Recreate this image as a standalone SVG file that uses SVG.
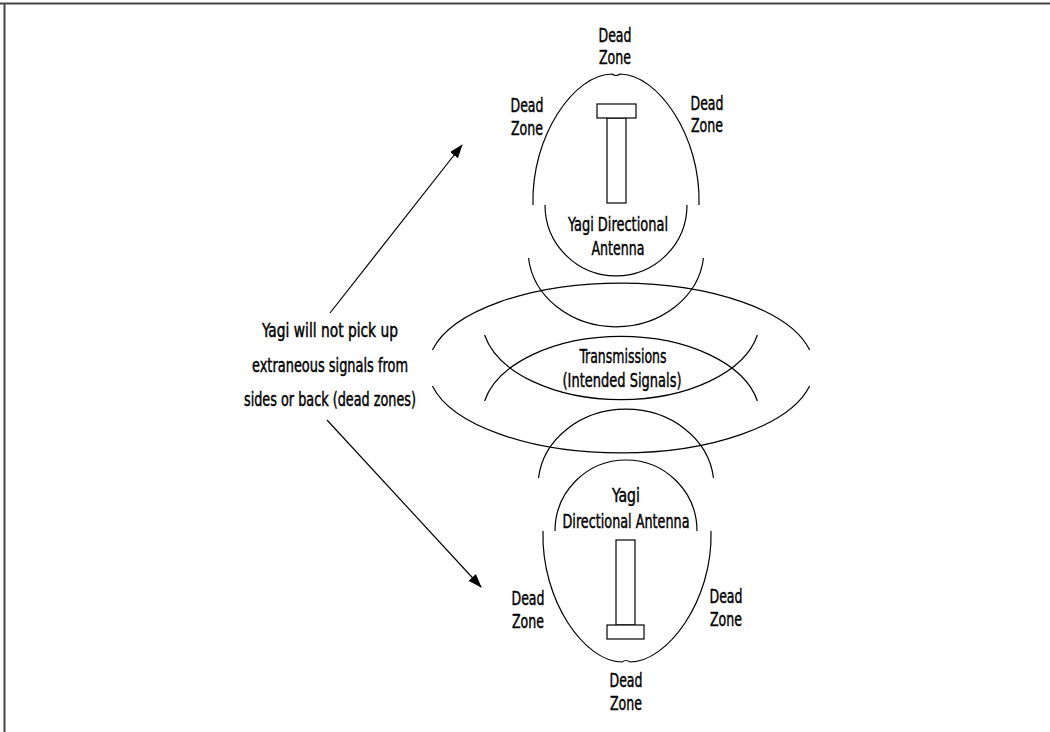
<svg xmlns="http://www.w3.org/2000/svg" width="1050" height="732" viewBox="0 0 1050 732">
<defs>
<marker id="ah" markerUnits="userSpaceOnUse" markerWidth="14" markerHeight="10" refX="13" refY="5" orient="auto">
<path d="M0,0 L14,5 L0,10 Z" fill="#000"/>
</marker>
<style>
.ln{fill:none;stroke:#000;stroke-width:1.2}
.box{fill:#fff;stroke:#000;stroke-width:1.2}
.t{font-family:"DejaVu Sans Condensed","DejaVu Sans","Liberation Sans",sans-serif;font-size:20px;fill:#000;stroke:#000;stroke-width:0.45;text-anchor:middle}
.tl{font-size:19px}
.frame{stroke:#444;stroke-width:2;fill:none}
</style>
</defs>
<rect width="1050" height="732" fill="#fff"/>
<path class="frame" d="M0,3.5 H1050 M4.5,3 V732"/>

<g id="top-antenna">
<path class="ln" d="M533,205 C531,135 575,74 612,74 Q616,77 620,74 C657,74 701,135 699,205"/>
<path class="ln" d="M545,205 A71,71 0 0 0 687,205"/>
<path class="ln" d="M528.5,258 A88,77 0 0 0 703.5,258"/>
<rect class="box" x="607" y="118" width="19" height="85"/>
<rect class="box" x="597" y="104" width="39" height="14"/>
<text class="t" x="615" y="42" textLength="33" lengthAdjust="spacingAndGlyphs">Dead</text>
<text class="t" x="615" y="64" textLength="32" lengthAdjust="spacingAndGlyphs">Zone</text>
<text class="t" x="527" y="112" textLength="33" lengthAdjust="spacingAndGlyphs">Dead</text>
<text class="t" x="527" y="135" textLength="32" lengthAdjust="spacingAndGlyphs">Zone</text>
<text class="t" x="707" y="110" textLength="33" lengthAdjust="spacingAndGlyphs">Dead</text>
<text class="t" x="707" y="132" textLength="32" lengthAdjust="spacingAndGlyphs">Zone</text>
<text class="t" x="618" y="231" textLength="100" lengthAdjust="spacingAndGlyphs">Yagi Directional</text>
<text class="t" x="618" y="255" textLength="53" lengthAdjust="spacingAndGlyphs">Antenna</text>
</g>

<g id="transmissions">
<path class="ln" d="M432.4,350 A193,85 0 0 1 809.6,350"/>
<path class="ln" d="M432.4,386 A193,85 0 0 0 809.6,386"/>
<path class="ln" d="M484.6,335 A139,80 0 0 0 757.4,335"/>
<path class="ln" d="M484.6,401 A139,80 0 0 1 757.4,401"/>
<text class="t" x="623" y="363" textLength="87" lengthAdjust="spacingAndGlyphs">Transmissions</text>
<text class="t" x="622" y="387" textLength="119" lengthAdjust="spacingAndGlyphs">(Intended Signals)</text>
</g>

<g id="bottom-antenna">
<path class="ln" d="M543,531 C541,601 585,662 622,662 Q626,659 630,662 C667,662 713,601 711,531"/>
<path class="ln" d="M555,531 A71,71 0 0 1 697,531"/>
<path class="ln" d="M538.5,478 A88,77 0 0 1 713.5,478"/>
<rect class="box" x="616" y="540" width="19" height="85"/>
<rect class="box" x="607" y="625" width="37" height="14"/>
<text class="t" x="626" y="502" textLength="28" lengthAdjust="spacingAndGlyphs">Yagi</text>
<text class="t" x="626" y="528" textLength="127" lengthAdjust="spacingAndGlyphs">Directional Antenna</text>
<text class="t" x="528" y="605" textLength="33" lengthAdjust="spacingAndGlyphs">Dead</text>
<text class="t" x="528" y="628" textLength="32" lengthAdjust="spacingAndGlyphs">Zone</text>
<text class="t" x="726" y="603" textLength="33" lengthAdjust="spacingAndGlyphs">Dead</text>
<text class="t" x="726" y="626" textLength="32" lengthAdjust="spacingAndGlyphs">Zone</text>
<text class="t" x="626" y="687" textLength="33" lengthAdjust="spacingAndGlyphs">Dead</text>
<text class="t" x="626" y="710" textLength="32" lengthAdjust="spacingAndGlyphs">Zone</text>
</g>

<g id="dead-zone-note">
<text class="t tl" x="330" y="337" textLength="136" lengthAdjust="spacingAndGlyphs">Yagi will not pick up</text>
<text class="t tl" x="330" y="372" textLength="156" lengthAdjust="spacingAndGlyphs">extraneous signals from</text>
<text class="t tl" x="330" y="406" textLength="172" lengthAdjust="spacingAndGlyphs">sides or back (dead zones)</text>
</g>

<g id="connectors">
<line class="ln" x1="330" y1="313" x2="462" y2="145" marker-end="url(#ah)"/>
<line class="ln" x1="327" y1="420" x2="481" y2="587" marker-end="url(#ah)"/>
</g>
</svg>
